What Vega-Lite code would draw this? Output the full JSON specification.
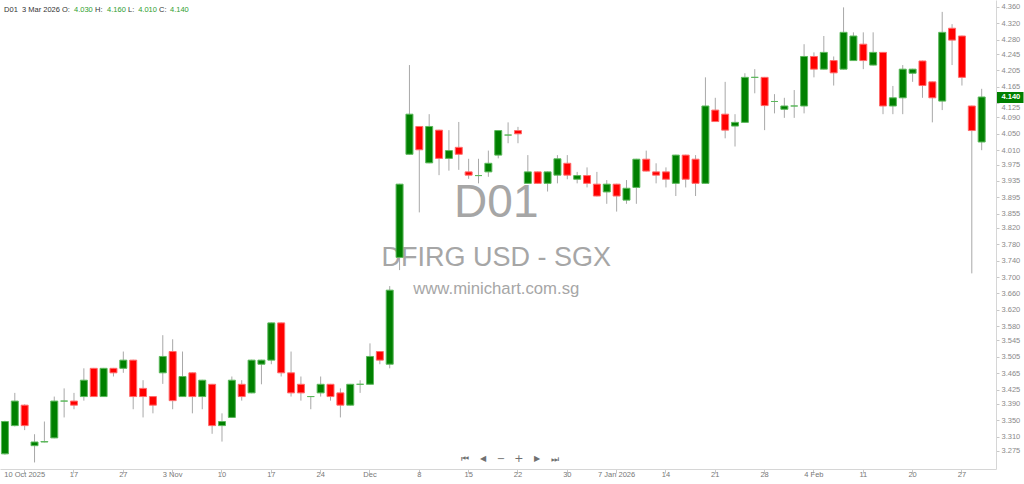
{
  "$schema": "https://vega.github.io/schema/vega-lite/v6.json",
  "width": 996,
  "height": 469,
  "autosize": {"type": "none"},
  "padding": {"left": 0, "top": 0, "right": 28, "bottom": 15},
  "background": "white",
  "config": {"view": {"stroke": null}},
  "data": {"values": [
    {"date":"2025-10-08","open":3.268,"high":3.349,"low":3.266,"close":3.347},
    {"date":"2025-10-09","open":3.337,"high":3.417,"low":3.335,"close":3.397},
    {"date":"2025-10-10","open":3.387,"high":3.389,"low":3.326,"close":3.337},
    {"date":"2025-10-13","open":3.288,"high":3.316,"low":3.247,"close":3.297},
    {"date":"2025-10-14","open":3.297,"high":3.347,"low":3.296,"close":3.298},
    {"date":"2025-10-15","open":3.307,"high":3.408,"low":3.306,"close":3.397},
    {"date":"2025-10-16","open":3.397,"high":3.428,"low":3.357,"close":3.397},
    {"date":"2025-10-17","open":3.397,"high":3.417,"low":3.377,"close":3.387},
    {"date":"2025-10-21","open":3.408,"high":3.477,"low":3.398,"close":3.448},
    {"date":"2025-10-22","open":3.477,"high":3.478,"low":3.407,"close":3.408},
    {"date":"2025-10-23","open":3.408,"high":3.478,"low":3.407,"close":3.477},
    {"date":"2025-10-24","open":3.477,"high":3.478,"low":3.457,"close":3.466},
    {"date":"2025-10-27","open":3.477,"high":3.518,"low":3.466,"close":3.497},
    {"date":"2025-10-28","open":3.497,"high":3.498,"low":3.377,"close":3.408},
    {"date":"2025-10-29","open":3.428,"high":3.448,"low":3.357,"close":3.408},
    {"date":"2025-10-30","open":3.408,"high":3.409,"low":3.367,"close":3.387},
    {"date":"2025-10-31","open":3.466,"high":3.558,"low":3.439,"close":3.506},
    {"date":"2025-11-03","open":3.518,"high":3.548,"low":3.377,"close":3.398},
    {"date":"2025-11-04","open":3.408,"high":3.518,"low":3.407,"close":3.457},
    {"date":"2025-11-05","open":3.466,"high":3.467,"low":3.367,"close":3.408},
    {"date":"2025-11-06","open":3.408,"high":3.449,"low":3.377,"close":3.448},
    {"date":"2025-11-07","open":3.438,"high":3.439,"low":3.317,"close":3.337},
    {"date":"2025-11-10","open":3.337,"high":3.367,"low":3.298,"close":3.347},
    {"date":"2025-11-11","open":3.357,"high":3.457,"low":3.356,"close":3.448},
    {"date":"2025-11-12","open":3.438,"high":3.448,"low":3.398,"close":3.408},
    {"date":"2025-11-13","open":3.417,"high":3.498,"low":3.416,"close":3.497},
    {"date":"2025-11-14","open":3.487,"high":3.498,"low":3.438,"close":3.497},
    {"date":"2025-11-17","open":3.497,"high":3.589,"low":3.487,"close":3.588},
    {"date":"2025-11-18","open":3.588,"high":3.589,"low":3.457,"close":3.466},
    {"date":"2025-11-19","open":3.466,"high":3.518,"low":3.408,"close":3.417},
    {"date":"2025-11-20","open":3.438,"high":3.457,"low":3.398,"close":3.417},
    {"date":"2025-11-21","open":3.408,"high":3.409,"low":3.377,"close":3.408},
    {"date":"2025-11-24","open":3.417,"high":3.457,"low":3.408,"close":3.438},
    {"date":"2025-11-25","open":3.438,"high":3.439,"low":3.398,"close":3.408},
    {"date":"2025-11-26","open":3.417,"high":3.428,"low":3.357,"close":3.387},
    {"date":"2025-11-27","open":3.387,"high":3.439,"low":3.386,"close":3.438},
    {"date":"2025-11-28","open":3.438,"high":3.448,"low":3.417,"close":3.438},
    {"date":"2025-12-01","open":3.438,"high":3.538,"low":3.437,"close":3.506},
    {"date":"2025-12-02","open":3.518,"high":3.519,"low":3.487,"close":3.497},
    {"date":"2025-12-03","open":3.487,"high":3.678,"low":3.477,"close":3.668},
    {"date":"2025-12-04","open":3.748,"high":3.928,"low":3.717,"close":3.927},
    {"date":"2025-12-05","open":4.000,"high":4.218,"low":3.999,"close":4.098},
    {"date":"2025-12-08","open":4.068,"high":4.069,"low":3.858,"close":4.011},
    {"date":"2025-12-09","open":3.979,"high":4.098,"low":3.978,"close":4.068},
    {"date":"2025-12-10","open":4.059,"high":4.060,"low":3.949,"close":3.990},
    {"date":"2025-12-11","open":3.990,"high":4.059,"low":3.960,"close":4.009},
    {"date":"2025-12-12","open":4.017,"high":4.079,"low":3.962,"close":4.000},
    {"date":"2025-12-15","open":3.957,"high":3.989,"low":3.940,"close":3.949},
    {"date":"2025-12-16","open":3.948,"high":3.989,"low":3.929,"close":3.948},
    {"date":"2025-12-17","open":3.957,"high":4.009,"low":3.945,"close":3.978},
    {"date":"2025-12-18","open":3.998,"high":4.059,"low":3.990,"close":4.058},
    {"date":"2025-12-19","open":4.047,"high":4.078,"low":4.027,"close":4.047},
    {"date":"2025-12-22","open":4.058,"high":4.067,"low":4.027,"close":4.050},
    {"date":"2025-12-23","open":3.929,"high":3.998,"low":3.928,"close":3.957},
    {"date":"2025-12-24","open":3.957,"high":3.958,"low":3.928,"close":3.929},
    {"date":"2025-12-26","open":3.929,"high":3.958,"low":3.909,"close":3.957},
    {"date":"2025-12-29","open":3.949,"high":3.998,"low":3.929,"close":3.989},
    {"date":"2025-12-30","open":3.978,"high":3.998,"low":3.939,"close":3.949},
    {"date":"2025-12-31","open":3.939,"high":3.957,"low":3.929,"close":3.948},
    {"date":"2026-01-02","open":3.948,"high":3.968,"low":3.919,"close":3.929},
    {"date":"2026-01-05","open":3.927,"high":3.957,"low":3.897,"close":3.898},
    {"date":"2026-01-06","open":3.908,"high":3.937,"low":3.879,"close":3.927},
    {"date":"2026-01-07","open":3.927,"high":3.928,"low":3.860,"close":3.898},
    {"date":"2026-01-08","open":3.888,"high":3.937,"low":3.879,"close":3.917},
    {"date":"2026-01-09","open":3.919,"high":3.989,"low":3.879,"close":3.988},
    {"date":"2026-01-12","open":3.988,"high":4.009,"low":3.958,"close":3.959},
    {"date":"2026-01-13","open":3.957,"high":3.978,"low":3.929,"close":3.949},
    {"date":"2026-01-14","open":3.957,"high":3.968,"low":3.919,"close":3.939},
    {"date":"2026-01-15","open":3.929,"high":3.999,"low":3.898,"close":3.998},
    {"date":"2026-01-16","open":3.998,"high":3.999,"low":3.919,"close":3.939},
    {"date":"2026-01-19","open":3.988,"high":3.998,"low":3.898,"close":3.929},
    {"date":"2026-01-20","open":3.929,"high":4.188,"low":3.928,"close":4.118},
    {"date":"2026-01-21","open":4.108,"high":4.138,"low":4.079,"close":4.080},
    {"date":"2026-01-22","open":4.098,"high":4.177,"low":4.039,"close":4.059},
    {"date":"2026-01-23","open":4.069,"high":4.098,"low":4.019,"close":4.078},
    {"date":"2026-01-26","open":4.078,"high":4.198,"low":4.077,"close":4.188},
    {"date":"2026-01-27","open":4.188,"high":4.208,"low":4.149,"close":4.188},
    {"date":"2026-01-28","open":4.188,"high":4.189,"low":4.059,"close":4.119},
    {"date":"2026-01-29","open":4.129,"high":4.147,"low":4.100,"close":4.129},
    {"date":"2026-01-30","open":4.110,"high":4.138,"low":4.089,"close":4.118},
    {"date":"2026-02-02","open":4.118,"high":4.157,"low":4.089,"close":4.118},
    {"date":"2026-02-03","open":4.118,"high":4.269,"low":4.100,"close":4.239},
    {"date":"2026-02-04","open":4.239,"high":4.249,"low":4.188,"close":4.208},
    {"date":"2026-02-05","open":4.208,"high":4.289,"low":4.207,"close":4.249},
    {"date":"2026-02-06","open":4.229,"high":4.239,"low":4.168,"close":4.199},
    {"date":"2026-02-09","open":4.208,"high":4.359,"low":4.207,"close":4.298},
    {"date":"2026-02-10","open":4.229,"high":4.298,"low":4.228,"close":4.289},
    {"date":"2026-02-11","open":4.269,"high":4.298,"low":4.208,"close":4.229},
    {"date":"2026-02-12","open":4.218,"high":4.298,"low":4.217,"close":4.249},
    {"date":"2026-02-13","open":4.249,"high":4.250,"low":4.098,"close":4.118},
    {"date":"2026-02-16","open":4.118,"high":4.167,"low":4.098,"close":4.138},
    {"date":"2026-02-19","open":4.138,"high":4.218,"low":4.098,"close":4.208},
    {"date":"2026-02-20","open":4.198,"high":4.209,"low":4.177,"close":4.208},
    {"date":"2026-02-23","open":4.228,"high":4.229,"low":4.138,"close":4.168},
    {"date":"2026-02-24","open":4.177,"high":4.178,"low":4.078,"close":4.138},
    {"date":"2026-02-25","open":4.130,"high":4.348,"low":4.108,"close":4.298},
    {"date":"2026-02-26","open":4.308,"high":4.318,"low":4.218,"close":4.279},
    {"date":"2026-02-27","open":4.289,"high":4.290,"low":4.168,"close":4.188},
    {"date":"2026-03-02","open":4.118,"high":4.119,"low":3.709,"close":4.058},
    {"date":"2026-03-03","open":4.030,"high":4.160,"low":4.010,"close":4.140}
  ]},
  "layer": [
    {
      "data": {"values": [{"t": "D01"}]},
      "mark": {"type": "text", "font": "Liberation Sans", "fontSize": 46, "color": "#a6a6a6", "align": "center", "baseline": "middle"},
      "encoding": {
        "x": {"datum": "2025-12-18", "type": "ordinal", "bandPosition": 0.3, "scale": {"type": "band", "paddingInner": 0, "paddingOuter": 0.476, "align": 0}},
        "y": {"datum": 3.881, "type": "quantitative", "scale": {"domain": [3.231, 4.377], "nice": false, "zero": false}},
        "text": {"field": "t"}
      }
    },
    {
      "data": {"values": [{"t": "DFIRG USD - SGX"}]},
      "mark": {"type": "text", "font": "Liberation Sans", "fontSize": 27, "color": "#a6a6a6", "align": "center", "baseline": "middle"},
      "encoding": {
        "x": {"datum": "2025-12-18", "type": "ordinal", "bandPosition": 0.3},
        "y": {"datum": 3.7466, "type": "quantitative"},
        "text": {"field": "t"}
      }
    },
    {
      "data": {"values": [{"t": "www.minichart.com.sg"}]},
      "mark": {"type": "text", "font": "Liberation Sans", "fontSize": 16.7, "color": "#a6a6a6", "align": "center", "baseline": "middle"},
      "encoding": {
        "x": {"datum": "2025-12-18", "type": "ordinal", "bandPosition": 0.3},
        "y": {"datum": 3.671, "type": "quantitative"},
        "text": {"field": "t"}
      }
    },
    {
      "mark": {"type": "rule", "color": "#a8a8a8", "strokeWidth": 1},
      "encoding": {
        "x": {"field": "date", "type": "ordinal", "scale": {"type": "band", "paddingInner": 0, "paddingOuter": 0.476, "align": 0},
          "axis": {"title": null, "labelAngle": 0, "labelAlign": "center", "bandPosition": 0.5, "values": ["2025-10-10","2025-10-17","2025-10-27","2025-11-03","2025-11-10","2025-11-17","2025-11-24","2025-12-01","2025-12-08","2025-12-15","2025-12-22","2025-12-30","2026-01-07","2026-01-14","2026-01-21","2026-01-28","2026-02-04","2026-02-11","2026-02-20","2026-02-27"],
            "labelExpr": "datum.value == '2025-10-10' ? '10 Oct 2025' : datum.value == '2025-11-03' ? '3 Nov' : datum.value == '2025-12-01' ? 'Dec' : datum.value == '2026-01-07' ? '7 Jan 2026' : datum.value == '2026-02-04' ? '4 Feb' : '' + toNumber(substring(datum.value, 8, 10))",
            "domainColor": "#d6d6d6", "tickColor": "#c8c8c8", "tickSize": 4, "labelColor": "#777777", "labelFont": "Liberation Sans", "labelFontSize": 7.5, "labelPadding": 1, "labelOverlap": false, "labelBound": false, "labelFlush": false}},
        "y": {"field": "low", "type": "quantitative", "scale": {"domain": [3.231, 4.377], "nice": false, "zero": false},
          "axis": {"title": null, "orient": "right", "grid": false, "tickCount": 100,
            "values": [4.36,4.32,4.28,4.245,4.205,4.165,4.14,4.125,4.09,4.05,4.01,3.975,3.935,3.895,3.855,3.82,3.78,3.74,3.7,3.66,3.62,3.58,3.545,3.505,3.465,3.425,3.39,3.35,3.31,3.275],
            "format": ".3f", "domainColor": "#d6d6d6", "tickSize": 27,
            "tickColor": {"condition": {"test": "datum.value == 4.14", "value": "#008000"}, "value": "#c8c8c8"},
            "tickWidth": {"condition": {"test": "datum.value == 4.14", "value": 11}, "value": 1},
            "tickDash": {"condition": {"test": "datum.value == 4.14", "value": []}, "value": [3, 40]},
            "labelPadding": -22,
            "labelColor": {"condition": {"test": "datum.value == 4.14", "value": "#ffffff"}, "value": "#8a8a8a"},
            "labelFontWeight": {"condition": {"test": "datum.value == 4.14", "value": "bold"}, "value": "normal"},
            "labelBaseline": {"condition": {"test": "datum.value == 4.125", "value": "top"}, "value": "middle"},
            "labelFont": "Liberation Sans", "labelFontSize": 7.5, "labelOverlap": false, "labelFlush": false, "labelBound": false}},
        "y2": {"field": "high"}
      }
    },
    {
      "mark": {"type": "bar", "width": 7, "strokeWidth": 1},
      "encoding": {
        "x": {"field": "date", "type": "ordinal"},
        "y": {"field": "open", "type": "quantitative"},
        "y2": {"field": "close"},
        "fill": {"condition": {"test": "datum.close >= datum.open", "value": "#008000"}, "value": "#ff0000"},
        "stroke": {"condition": {"test": "datum.close >= datum.open", "value": "#5cb85c"}, "value": "#ff6b6b"}
      }
    },
    {"data": {"values": [{"t": "D01"}]}, "mark": {"type": "text", "font": "Liberation Sans", "fontSize": 7.5, "color": "#333333", "align": "left", "baseline": "middle"},
      "encoding": {"x": {"datum": "2025-10-08", "type": "ordinal", "bandPosition": 0.41}, "y": {"datum": 4.353, "type": "quantitative"}, "text": {"field": "t"}}},
    {"data": {"values": [{"t": "3 Mar 2026"}]}, "mark": {"type": "text", "font": "Liberation Sans", "fontSize": 7.5, "color": "#333333", "align": "left", "baseline": "middle"},
      "encoding": {"x": {"datum": "2025-10-10", "type": "ordinal", "bandPosition": 0.23}, "y": {"datum": 4.353, "type": "quantitative"}, "text": {"field": "t"}}},
    {"data": {"values": [{"t": "O:"}]}, "mark": {"type": "text", "font": "Liberation Sans", "fontSize": 7.5, "color": "#333333", "align": "left", "baseline": "middle"},
      "encoding": {"x": {"datum": "2025-10-16", "type": "ordinal", "bandPosition": 0.28}, "y": {"datum": 4.353, "type": "quantitative"}, "text": {"field": "t"}}},
    {"data": {"values": [{"t": "4.030"}]}, "mark": {"type": "text", "font": "Liberation Sans", "fontSize": 7.5, "color": "#2e9e2e", "align": "left", "baseline": "middle"},
      "encoding": {"x": {"datum": "2025-10-17", "type": "ordinal", "bandPosition": 0.5}, "y": {"datum": 4.353, "type": "quantitative"}, "text": {"field": "t"}}},
    {"data": {"values": [{"t": "H:"}]}, "mark": {"type": "text", "font": "Liberation Sans", "fontSize": 7.5, "color": "#333333", "align": "left", "baseline": "middle"},
      "encoding": {"x": {"datum": "2025-10-22", "type": "ordinal", "bandPosition": 0.63}, "y": {"datum": 4.353, "type": "quantitative"}, "text": {"field": "t"}}},
    {"data": {"values": [{"t": "4.160"}]}, "mark": {"type": "text", "font": "Liberation Sans", "fontSize": 7.5, "color": "#2e9e2e", "align": "left", "baseline": "middle"},
      "encoding": {"x": {"datum": "2025-10-23", "type": "ordinal", "bandPosition": 0.85}, "y": {"datum": 4.353, "type": "quantitative"}, "text": {"field": "t"}}},
    {"data": {"values": [{"t": "L:"}]}, "mark": {"type": "text", "font": "Liberation Sans", "fontSize": 7.5, "color": "#333333", "align": "left", "baseline": "middle"},
      "encoding": {"x": {"datum": "2025-10-27", "type": "ordinal", "bandPosition": 0.97}, "y": {"datum": 4.353, "type": "quantitative"}, "text": {"field": "t"}}},
    {"data": {"values": [{"t": "4.010"}]}, "mark": {"type": "text", "font": "Liberation Sans", "fontSize": 7.5, "color": "#2e9e2e", "align": "left", "baseline": "middle"},
      "encoding": {"x": {"datum": "2025-10-29", "type": "ordinal", "bandPosition": 0.0}, "y": {"datum": 4.353, "type": "quantitative"}, "text": {"field": "t"}}},
    {"data": {"values": [{"t": "C:"}]}, "mark": {"type": "text", "font": "Liberation Sans", "fontSize": 7.5, "color": "#333333", "align": "left", "baseline": "middle"},
      "encoding": {"x": {"datum": "2025-10-31", "type": "ordinal", "bandPosition": 0.12}, "y": {"datum": 4.353, "type": "quantitative"}, "text": {"field": "t"}}},
    {"data": {"values": [{"t": "4.140"}]}, "mark": {"type": "text", "font": "Liberation Sans", "fontSize": 7.5, "color": "#2e9e2e", "align": "left", "baseline": "middle"},
      "encoding": {"x": {"datum": "2025-11-03", "type": "ordinal", "bandPosition": 0.23}, "y": {"datum": 4.353, "type": "quantitative"}, "text": {"field": "t"}}},
    {"data": {"values": [{"t": "⏮"}]}, "mark": {"type": "text", "font": "DejaVu Sans", "fontSize": 9, "color": "#707070", "align": "center", "baseline": "middle"},
      "encoding": {"x": {"datum": "2025-12-15", "type": "ordinal", "bandPosition": 0.13}, "y": {"datum": 3.2554, "type": "quantitative"}, "text": {"field": "t"}}},
    {"data": {"values": [{"t": "◀"}]}, "mark": {"type": "text", "font": "DejaVu Sans", "fontSize": 8, "color": "#707070", "align": "center", "baseline": "middle"},
      "encoding": {"x": {"datum": "2025-12-16", "type": "ordinal", "bandPosition": 0.96}, "y": {"datum": 3.2554, "type": "quantitative"}, "text": {"field": "t"}}},
    {"data": {"values": [{"t": "−"}]}, "mark": {"type": "text", "font": "DejaVu Sans", "fontSize": 10, "color": "#707070", "align": "center", "baseline": "middle"},
      "encoding": {"x": {"datum": "2025-12-18", "type": "ordinal", "bandPosition": 0.78}, "y": {"datum": 3.2554, "type": "quantitative"}, "text": {"field": "t"}}},
    {"data": {"values": [{"t": "+"}]}, "mark": {"type": "text", "font": "DejaVu Sans", "fontSize": 11, "color": "#707070", "align": "center", "baseline": "middle"},
      "encoding": {"x": {"datum": "2025-12-22", "type": "ordinal", "bandPosition": 0.6}, "y": {"datum": 3.2554, "type": "quantitative"}, "text": {"field": "t"}}},
    {"data": {"values": [{"t": "▶"}]}, "mark": {"type": "text", "font": "DejaVu Sans", "fontSize": 8, "color": "#707070", "align": "center", "baseline": "middle"},
      "encoding": {"x": {"datum": "2025-12-24", "type": "ordinal", "bandPosition": 0.43}, "y": {"datum": 3.2554, "type": "quantitative"}, "text": {"field": "t"}}},
    {"data": {"values": [{"t": "⏭"}]}, "mark": {"type": "text", "font": "DejaVu Sans", "fontSize": 9, "color": "#707070", "align": "center", "baseline": "middle"},
      "encoding": {"x": {"datum": "2025-12-29", "type": "ordinal", "bandPosition": 0.25}, "y": {"datum": 3.2554, "type": "quantitative"}, "text": {"field": "t"}}}
  ]
}
